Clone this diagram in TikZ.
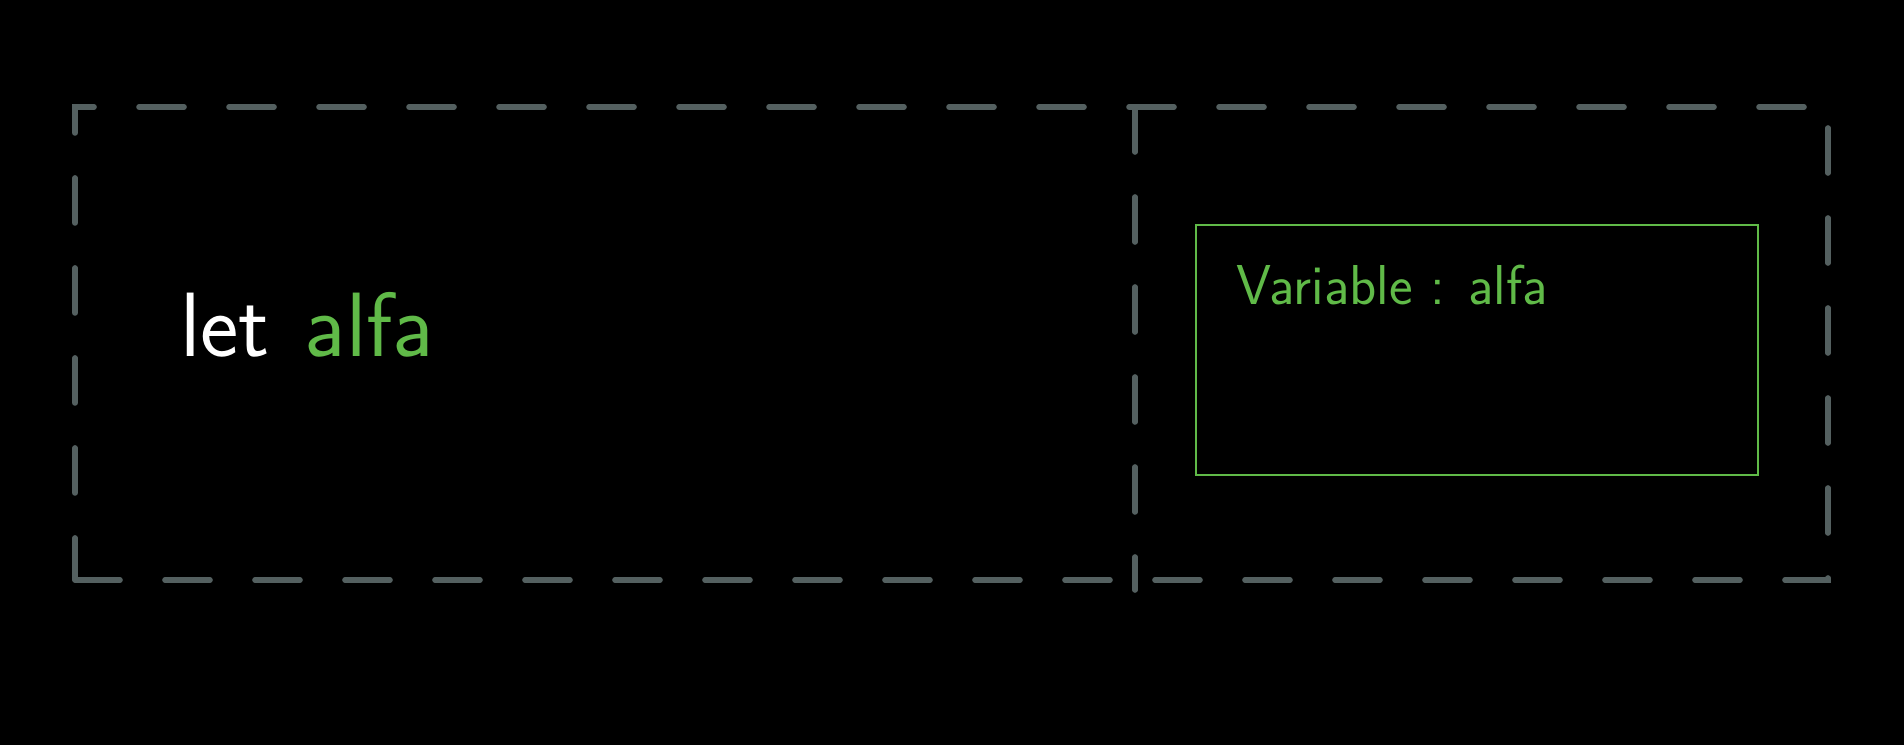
\documentclass[tikz,border=0pt]{standalone}
\usepackage{tikz}
\usetikzlibrary{positioning}
\definecolor{SketchGray}{RGB}{84,96,96}
\definecolor{SketchGreen}{RGB}{96,186,72}

\begin{document}
\begin{tikzpicture}[every node/.style={inner sep=0pt, outer sep=0pt},
  frame/.style={draw=SketchGray, line width=1.6pt, line cap=round, dash pattern=on 0.45cm off 0.45cm},
  greenbox/.style={draw=SketchGreen, line width=0.65pt},
  word/.style={font=\sffamily\fontsize{26}{26}\selectfont},
  small word/.style={font=\sffamily\fontsize{16}{16}\selectfont, text=SketchGreen}]

	\fill[black] (0,0) rectangle (19.04,7.45);
	\useasboundingbox (0,0) rectangle (19.04,7.45);

	% outer frame and divider
	\node[frame, minimum width=17.53cm, minimum height=4.73cm] (outer) at (9.515,4.015) {};
	\coordinate (divtop) at (11.35,6.38);
	\coordinate (divbot) at (11.35,1.55);
	\draw[frame] (divtop) -- (divbot);

	% left side
	\node[word, text=white] (let) at (2.25,4.2) {let};
	\node[word, text=SketchGreen, right=0.35cm of let.east, anchor=west] (alfa) {alfa};

	% right side
	\node[greenbox, minimum width=5.62cm, minimum height=2.5cm] (varbox) at (14.77,3.95) {};
	\node[small word, below right=0.4cm and 0.4cm of varbox.north west, anchor=north west] (varlabel) {Variable : alfa};
\end{tikzpicture}
\end{document}
